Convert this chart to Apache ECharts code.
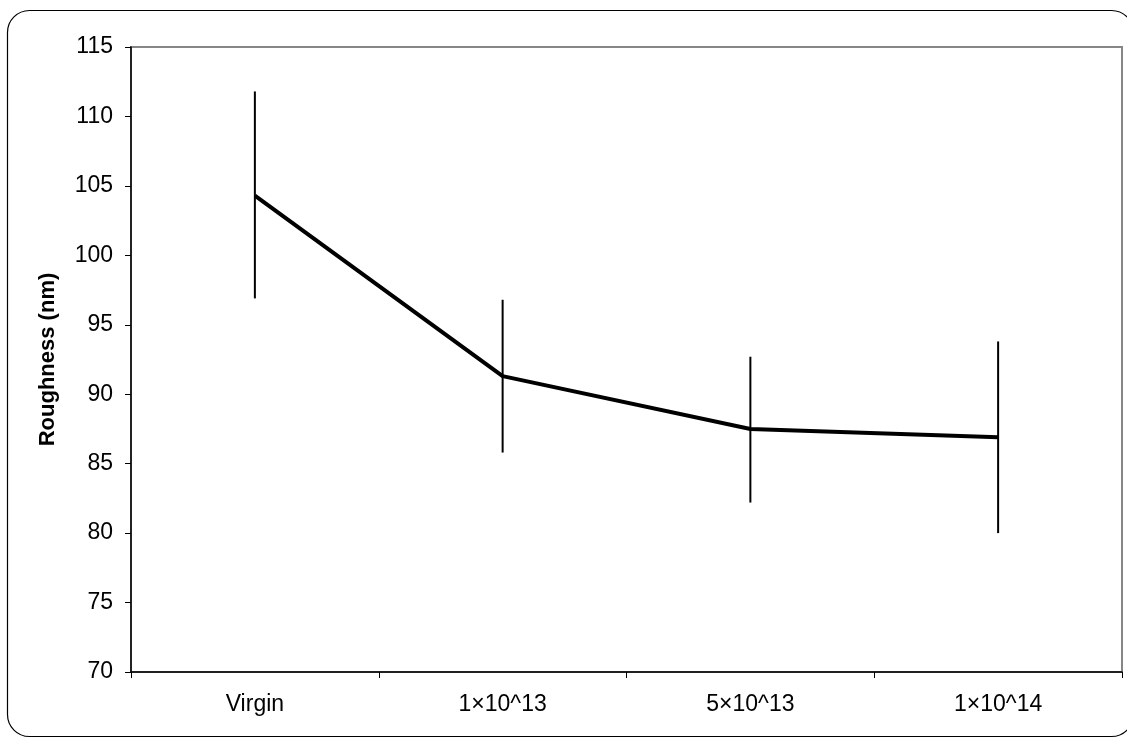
<!DOCTYPE html>
<html>
<head>
<meta charset="utf-8">
<script src="https://cdn.jsdelivr.net/npm/echarts@6/dist/echarts.min.js"></script>
<style>
  html, body { margin: 0; padding: 0; background: #fff; }
  #chart { width: 1127px; height: 739px; }
</style>
</head>
<body>
<div id="chart"></div>
<script>
// fluence categories and measured roughness
const categories = ['Virgin', '1×10^13', '5×10^13', '1×10^14']
const roughness = [104.3, 91.3, 87.5, 86.9]
const errLow = [96.9, 85.8, 82.2, 80.0]
const errHigh = [111.8, 96.8, 92.7, 93.8]
const yTicks = [70, 115, 5] // min, max, step

const font = '"Liberation Sans", Arial, sans-serif'
const chart = echarts.init(document.getElementById('chart'))

chart.setOption({
  animation: false,
  backgroundColor: '#fff',
  graphic: [{
    type: 'rect',
    shape: { x: 7.5, y: 10.5, width: 1126, height: 726, r: 22 },
    style: { fill: 'none', stroke: '#000', lineWidth: 1.2 },
    silent: true,
  }],
  grid: {
    left: 131,
    right: 5,
    top: 47,
    bottom: 67,
    show: true,
    borderColor: '#868686',
    borderWidth: 2,
  },
  xAxis: {
    type: 'category',
    data: categories,
    boundaryGap: true,
    axisLine: { lineStyle: { color: '#000', width: 1.5 } },
    axisTick: { show: true, length: 6, lineStyle: { color: '#000', width: 1 } },
    axisLabel: { color: '#000', fontFamily: font, fontSize: 23, margin: 21 },
  },
  yAxis: {
    type: 'value',
    min: yTicks[0],
    max: yTicks[1],
    interval: yTicks[2],
    name: 'Roughness (nm)',
    nameLocation: 'middle',
    nameGap: 72,
    nameTextStyle: { color: '#000', fontFamily: font, fontSize: 22, fontWeight: 'bold' },
    axisLine: { show: true, lineStyle: { color: '#000', width: 1.5 } },
    axisTick: { show: true, length: 6, lineStyle: { color: '#000', width: 1 } },
    axisLabel: { color: '#000', fontFamily: font, fontSize: 23, margin: 18 },
    splitLine: { show: false },
  },
  series: [
    {
      type: 'line',
      data: roughness,
      symbol: 'none',
      lineStyle: { color: '#000', width: 4 },
      z: 3,
    },
    {
      type: 'custom',
      data: categories.map((c, i) => [i, errLow[i], errHigh[i]]),
      renderItem: (params, api) => {
        const lo = api.coord([api.value(0), api.value(1)])
        const hi = api.coord([api.value(0), api.value(2)])
        return {
          type: 'line',
          shape: { x1: lo[0], y1: lo[1], x2: hi[0], y2: hi[1] },
          style: { stroke: '#000', lineWidth: 2 },
        }
      },
      z: 2,
    },
  ],
})
</script>
</body>
</html>
